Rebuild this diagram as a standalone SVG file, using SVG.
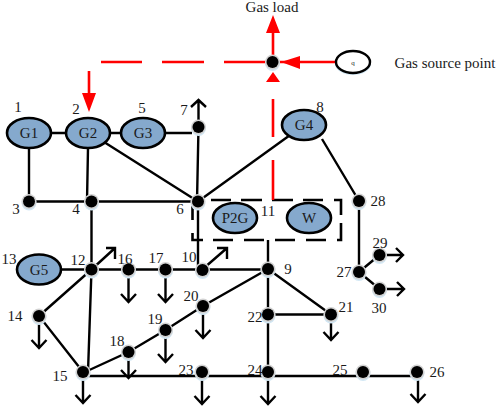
<svg xmlns="http://www.w3.org/2000/svg" width="498" height="407" viewBox="0 0 498 407">
<style>
text{font-family:"Liberation Serif","Times New Roman",serif;font-size:15px;fill:#1a1a1a;text-anchor:middle}
.g{fill:#85a9cd;stroke:#000;stroke-width:2.6}
.l{fill:none;stroke:#000;stroke-width:2.4}
.r{fill:none;stroke:#f00;stroke-width:2.6}
.a{fill:none;stroke:#000;stroke-width:2.4}
.d{fill:#000}
.h{fill:#d2d2d2}
.b{fill:#d3e8f5}
.af{fill:#f00}
</style>
<defs>
<g id="bus"><circle class="b" cy="1.500" r="7.500"/><circle class="h" r="7.500"/><circle class="d" r="6"/></g>
<path id="ad" d="M0 0V32M-7.500 24L0 32L7.500 24" class="a"/>
</defs>
<g id="connectors">
<path class="l" d="M51 133H66M110 133H121M165 133H192M29 148V201.500H198M88 148L87 201.500M104 142L198 201.500M198.500 127L197 201.500M198 201.500L304 125M198 201.500V270M322 139L359 201V272M91.500 201V269.500M91.500 269.500L88 372M39 269.500H268M91.500 269.500L39 316L83 372M85 372L128.500 352L165.500 330L203 306L268 269M83 376H417M268 240V372M268 269L331 314.500M268 314.500H331M359 272L379.500 255M359 272L379.500 289"/>
<path class="a" d="M91.500 269.500L115 248M106 248H115V259M204 268L227 248M217 248H227V259"/>
<use href="#ad" x="128.500" y="270"/><use href="#ad" x="165.500" y="270"/><use href="#ad" x="39" y="316"/><use href="#ad" x="203" y="306"/><use href="#ad" x="165.500" y="330"/><use href="#ad" x="83" y="371"/><use href="#ad" x="202" y="372"/><use href="#ad" x="268" y="372"/><use href="#ad" x="418" y="370"/>
<path class="a" d="M128.500 352V378M121 370L128.500 378L136 370M331 314.500V340M323.500 332L331 340L338.500 332"/>
<path class="a" d="M198.500 127V100M191 107L198.500 100L206 107M379.500 255H403M396 248L403 255L396 262M379.500 289H404M397 282L404 289L397 296"/>
<path fill="none" stroke="#000" stroke-width="2.600" d="M211 200H231M241 200H262M272 200H293M303 200H323M334 200H341V215M341 223V240H337M326 240H306M295 240H275M264 240H244M233 240H213M203 240H192.500V233M192.500 220V203"/>
<path class="r" d="M101 62H142M162 62H204M224 62H272M273 62V30M272 62H336M273 99V137M273 160V200M89 71V102"/>
<path class="af" d="M273 15L280 33H266ZM281 62L300 56V69ZM273 72L280 82H266ZM89 112L82 93H96Z"/>
</g>
<g id="gas-node"><use href="#bus" x="272.500" y="62"/></g>
<g id="q"><ellipse cx="353" cy="64" rx="18" ry="11" fill="#d3e8f5"/><ellipse cx="353" cy="62" rx="17" ry="11" fill="#fff" stroke="#000" stroke-width="2.400"/><text x="353" y="65" style="font-size:7px">q</text></g>
<g id="n1"><ellipse class="g" cx="29" cy="133" rx="22" ry="15"/><text x="29" y="138">G1</text><text x="18" y="112">1</text></g>
<g id="n2"><ellipse class="g" cx="88" cy="133" rx="22" ry="15"/><text x="88" y="138">G2</text><text x="76" y="114">2</text></g>
<g id="n5"><ellipse class="g" cx="143" cy="133" rx="22" ry="15"/><text x="143" y="138">G3</text><text x="142" y="113">5</text></g>
<g id="n8"><ellipse class="g" cx="304" cy="125" rx="22" ry="15"/><text x="304" y="130">G4</text><text x="320" y="112">8</text></g>
<g id="n13"><ellipse class="g" cx="39" cy="269.500" rx="22" ry="15"/><text x="39" y="275">G5</text><text x="9" y="264">13</text></g>
<g id="n-p2g"><ellipse class="g" cx="235" cy="218" rx="22" ry="15"/><text x="235" y="223">P2G</text></g>
<g id="n11"><text x="268" y="216">11</text></g>
<g id="n-w"><ellipse class="g" cx="309" cy="218" rx="22" ry="15"/><text x="309" y="223">W</text></g>
<g id="n7"><use href="#bus" x="198.500" y="127"/><text x="184" y="115">7</text></g>
<g id="n3"><use href="#bus" x="29" y="201.500"/><text x="16" y="214">3</text></g>
<g id="n4"><use href="#bus" x="91.500" y="201.500"/><text x="76" y="214">4</text></g>
<g id="n6"><use href="#bus" x="198" y="201.500"/><text x="180" y="214">6</text></g>
<g id="n28"><use href="#bus" x="359" y="201"/><text x="378" y="206">28</text></g>
<g id="n12"><use href="#bus" x="91.500" y="269.500"/><text x="78" y="265">12</text></g>
<g id="n16"><use href="#bus" x="128.500" y="269.500"/><text x="125" y="264">16</text></g>
<g id="n17"><use href="#bus" x="165.500" y="269.500"/><text x="156" y="263">17</text></g>
<g id="n10"><use href="#bus" x="202.500" y="270"/><text x="189" y="262">10</text></g>
<g id="n9"><use href="#bus" x="268" y="269"/><text x="288" y="274">9</text></g>
<g id="n14"><use href="#bus" x="39" y="316"/><text x="15" y="321">14</text></g>
<g id="n15"><use href="#bus" x="83" y="372"/><text x="60" y="381">15</text></g>
<g id="n18"><use href="#bus" x="128.500" y="352"/><text x="117" y="346">18</text></g>
<g id="n19"><use href="#bus" x="165.500" y="330"/><text x="155" y="324">19</text></g>
<g id="n20"><use href="#bus" x="203" y="306"/><text x="191" y="301">20</text></g>
<g id="n23"><use href="#bus" x="202" y="372"/><text x="186" y="375">23</text></g>
<g id="n22"><use href="#bus" x="268" y="314.500"/><text x="255" y="322">22</text></g>
<g id="n21"><use href="#bus" x="331" y="314.500"/><text x="346" y="312">21</text></g>
<g id="n24"><use href="#bus" x="268" y="372"/><text x="255" y="375">24</text></g>
<g id="n25"><use href="#bus" x="363" y="372"/><text x="340" y="375">25</text></g>
<g id="n26"><use href="#bus" x="417" y="372"/><text x="437" y="377">26</text></g>
<g id="n27"><use href="#bus" x="359" y="272"/><text x="344" y="277">27</text></g>
<g id="n29"><use href="#bus" x="379.500" y="255"/><text x="380" y="248">29</text></g>
<g id="n30"><use href="#bus" x="379.500" y="289"/><text x="379" y="313">30</text></g>
<text x="272" y="12">Gas load</text>
<text x="445" y="68">Gas source point</text>
</svg>
